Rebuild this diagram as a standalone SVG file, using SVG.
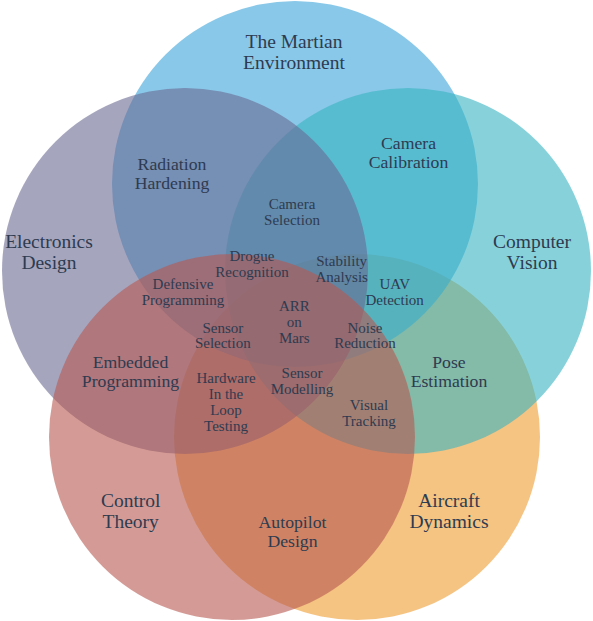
<svg xmlns="http://www.w3.org/2000/svg" width="593" height="621" viewBox="0 0 593 621">
<style>
.c{fill-opacity:0.6;stroke:none}
text{font-family:"Liberation Serif","Times New Roman",serif;fill:#2E3B50;text-anchor:middle}
.big{font-size:19.5px}
.med{font-size:17.7px}
.sm{font-size:15px}
</style>
<rect width="593" height="621" fill="#ffffff"/>
<g id="aircraft-dynamics"><circle class="c" cx="357" cy="437" r="183" fill="#EE9B2F"/></g>
<g id="martian-environment"><circle class="c" cx="295" cy="184" r="183" fill="#3AA3D9"/></g>
<g id="computer-vision"><circle class="c" cx="408" cy="271" r="183" fill="#37B4C1"/></g>
<g id="electronics-design"><circle class="c" cx="185" cy="271" r="183" fill="#696993"/></g>
<g id="control-theory"><circle class="c" cx="232" cy="437" r="183" fill="#B75850"/></g>
<g id="connectors"></g>
<g id="labels">
<text class="big" x="294" y="47.5">The Martian</text>
<text class="big" x="294" y="68.5">Environment</text>
<text class="big" x="49" y="248">Electronics</text>
<text class="big" x="49" y="269">Design</text>
<text class="big" x="532" y="248">Computer</text>
<text class="big" x="532" y="269">Vision</text>
<text class="big" x="130.7" y="507.3">Control</text>
<text class="big" x="130.7" y="528">Theory</text>
<text class="big" x="449" y="507.3">Aircraft</text>
<text class="big" x="449" y="528">Dynamics</text>
<text class="med" x="292.5" y="527.7">Autopilot</text>
<text class="med" x="292.5" y="546.5">Design</text>
<text class="med" x="172" y="169.5">Radiation</text>
<text class="med" x="172" y="188.5">Hardening</text>
<text class="med" x="408.5" y="148.5">Camera</text>
<text class="med" x="408.5" y="167.5">Calibration</text>
<text class="med" x="130.5" y="367.7">Embedded</text>
<text class="med" x="130.5" y="386.5">Programming</text>
<text class="med" x="449" y="367.7">Pose</text>
<text class="med" x="449" y="386.5">Estimation</text>
<text class="sm" x="292" y="209">Camera</text>
<text class="sm" x="292" y="225">Selection</text>
<text class="sm" x="252" y="261">Drogue</text>
<text class="sm" x="252" y="277">Recognition</text>
<text class="sm" x="341.7" y="266">Stability</text>
<text class="sm" x="341.7" y="282">Analysis</text>
<text class="sm" x="394.7" y="288.5">UAV</text>
<text class="sm" x="394.7" y="304.5">Detection</text>
<text class="sm" x="183" y="289">Defensive</text>
<text class="sm" x="183" y="305">Programming</text>
<text class="sm" x="294.3" y="311">ARR</text>
<text class="sm" x="294.3" y="326.8">on</text>
<text class="sm" x="294.3" y="342.7">Mars</text>
<text class="sm" x="222.8" y="332.7">Sensor</text>
<text class="sm" x="222.8" y="348.4">Selection</text>
<text class="sm" x="365" y="332.7">Noise</text>
<text class="sm" x="365" y="348.4">Reduction</text>
<text class="sm" x="226" y="383.3">Hardware</text>
<text class="sm" x="226" y="399.3">In the</text>
<text class="sm" x="226" y="415.3">Loop</text>
<text class="sm" x="226" y="431">Testing</text>
<text class="sm" x="302" y="378.3">Sensor</text>
<text class="sm" x="302" y="394.3">Modelling</text>
<text class="sm" x="369" y="410">Visual</text>
<text class="sm" x="369" y="425.7">Tracking</text>
</g>
</svg>
